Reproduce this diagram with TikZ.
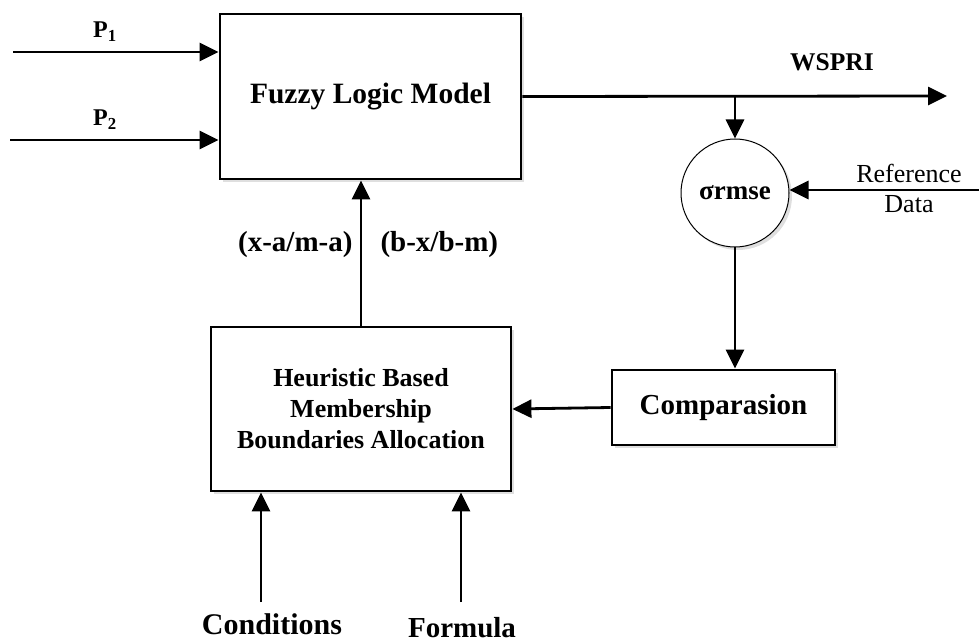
\documentclass[tikz,border=0pt]{standalone}
\usepackage{fontspec}
\setmainfont{Liberation Serif}
\usepackage{amsmath}
\usetikzlibrary{calc}
\usetikzlibrary{shapes,arrows}
\usetikzlibrary{arrows.meta}
\usetikzlibrary{shadows}

\tikzset{
    block/.style={draw, line width=2.8pt, fill=white, align=center, font=\bfseries,
        drop shadow={opacity=0.25, shadow xshift=3pt, shadow yshift=-3pt}},
    arr/.style={-{Triangle[length=19pt,width=18pt]}, line width=2.8pt},
    lbl/.style={font=\bfseries},
}

\begin{document}
\begin{tikzpicture}[x=1pt, y=-1pt]
    \useasboundingbox (0,0) rectangle (979,644);
    % blocks
    \node[block, minimum width=301pt, minimum height=165pt, font=\bfseries\fontsize{29.5}{32}\selectfont] (fuzzy) at (370.5,96.5) {Fuzzy Logic Model};
    \node[block, minimum width=300pt, minimum height=164pt, font=\bfseries\fontsize{26}{31}\selectfont] (heur) at (361,409) {Heuristic Based\\Membership\\Boundaries Allocation};
    \node[block, minimum width=223pt, minimum height=75pt, font=\bfseries\fontsize{29}{32}\selectfont] (comp) at (723.5,407.5) {Comparasion};
    \node[circle, draw, line width=1pt, fill=white, minimum size=108pt, inner sep=0pt, font=\bfseries\fontsize{27}{30}\selectfont,
        drop shadow={opacity=0.25, shadow xshift=3pt, shadow yshift=-3pt}] (sigma) at (735,193) {σrmse};
    % free ends
    \coordinate (p1) at (13,52);
    \coordinate (p2) at (10,140);
    \coordinate (wspri) at (947,96);
    \coordinate (refd) at (979,190);
    \coordinate (cond) at (261,602);
    \coordinate (form) at (461,602);
    % connectors
    \draw[arr] (p1) -- (p1 -| fuzzy.west);
    \draw[arr] (p2) -- (p2 -| fuzzy.west);
    \draw[arr] (fuzzy.east) -- (wspri);
    \draw[arr] (fuzzy.east -| sigma.north) -- (sigma.north);
    \draw[arr] (refd) -- (sigma.east |- refd);
    \draw[arr] (sigma.south) -- (sigma.south |- comp.north);
    \draw[arr] (comp.west) -- (heur.east);
    \draw[arr] (heur.north) -- (heur.north |- fuzzy.south);
    \draw[arr] (cond) -- (cond |- heur.south);
    \draw[arr] (form) -- (form |- heur.south);
    % labels
    \node[lbl, font=\bfseries\fontsize{24}{26}\selectfont] (lp1) at (105,32) {P\textsubscript{1}};
    \node[lbl, font=\bfseries\fontsize{24}{26}\selectfont] (lp2) at (105,120) {P\textsubscript{2}};
    \node[lbl, font=\bfseries\fontsize{25.5}{28}\selectfont] (lw) at (832,62) {WSPRI};
    \node[align=center, font=\fontsize{26}{30}\selectfont] (lref) at (909,188) {Reference\\Data};
    \node[lbl, anchor=east, font=\bfseries\fontsize{29}{30}\selectfont] (lxa) at (356,245) {(x-a/m-a)};
    \node[lbl, anchor=west, font=\bfseries\fontsize{29}{30}\selectfont] (lbx) at (377,245) {(b-x/b-m)};
    \node[lbl, font=\bfseries\fontsize{30}{32}\selectfont] (lcond) at (272,624) {Conditions};
    \node[lbl, font=\bfseries\fontsize{29}{32}\selectfont] (lform) at (462,628) {Formula};
\end{tikzpicture}
\end{document}
